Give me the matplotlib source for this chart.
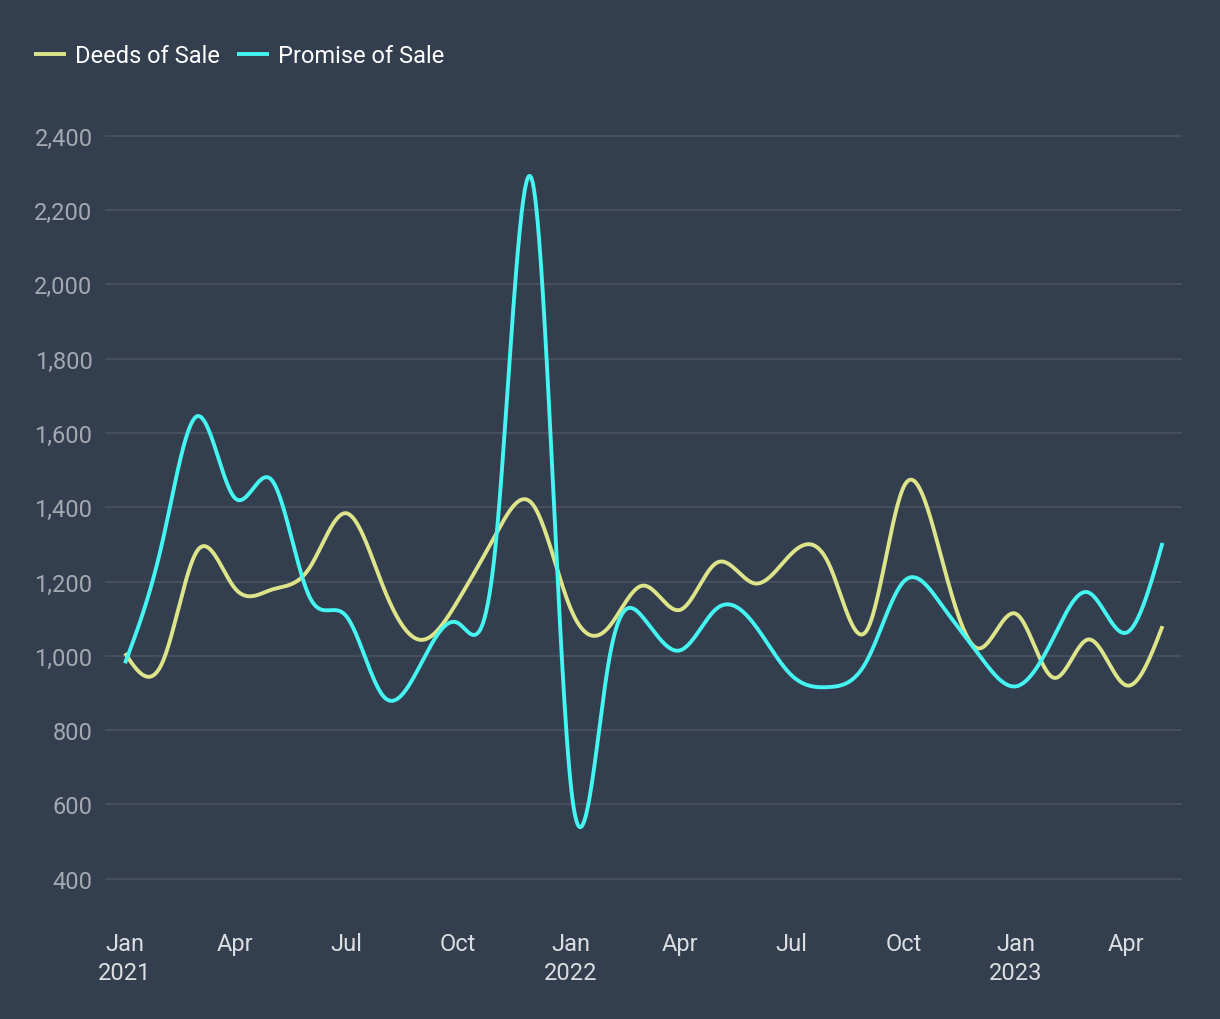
import numpy as np
import matplotlib
matplotlib.use("Agg")
import matplotlib.pyplot as plt
import matplotlib.dates as mdates

# monthly data, Jan 2021 - May 2023
months = np.arange("2021-01", "2023-06", dtype="datetime64[M]")
deeds_of_sale = [1007, 985, 1282, 1182, 1178, 1236, 1384, 1182, 1043, 1150, 1328, 1408,
                 1128, 1076, 1189, 1124, 1251, 1195, 1275, 1245, 1070, 1455, 1263, 1020,
                 1113, 941, 1044, 921, 1080]
promise_of_sale = [980, 1312, 1645, 1425, 1474, 1160, 1108, 890, 982, 1088, 1310, 2274,
                   660, 978, 1105, 1015, 1128, 1083, 948, 916, 988, 1200, 1137, 1006,
                   918, 1051, 1171, 1062, 1304]
series_names = ["Deeds of Sale", "Promise of Sale"]
tick_months = np.arange("2021-01", "2023-06", 3, dtype="datetime64[M]")
tick_labels = ["Jan\n2021", "Apr", "Jul", "Oct", "Jan\n2022", "Apr", "Jul", "Oct",
               "Jan\n2023", "Apr"]
y_ticks = list(range(400, 2401, 200))

BG = "#333e4f"
GRID = "#4a5161"
COLORS = ["#dde48a", "#45f5f2"]


def natural_spline(x, y, xs):
    """
    natural cubic spline through (x, y), evaluated at xs
    """
    x = np.asarray(x, float)
    y = np.asarray(y, float)
    n = len(x)
    h = np.diff(x)
    a = np.zeros((n, n))
    rhs = np.zeros(n)
    a[0, 0] = a[-1, -1] = 1
    for i in range(1, n - 1):
        a[i, i - 1] = h[i - 1]
        a[i, i] = 2 * (h[i - 1] + h[i])
        a[i, i + 1] = h[i]
        rhs[i] = 6 * ((y[i + 1] - y[i]) / h[i] - (y[i] - y[i - 1]) / h[i - 1])
    m = np.linalg.solve(a, rhs)
    idx = np.clip(np.searchsorted(x, xs) - 1, 0, n - 2)
    x0, x1 = x[idx], x[idx + 1]
    hi = x1 - x0
    t0 = x1 - xs
    t1 = xs - x0
    return (m[idx] * t0 ** 3 / (6 * hi) + m[idx + 1] * t1 ** 3 / (6 * hi)
            + (y[idx] / hi - m[idx] * hi / 6) * t0 + (y[idx + 1] / hi - m[idx + 1] * hi / 6) * t1)


plt.rcParams["font.family"] = ["Roboto", "DejaVu Sans"]

x = mdates.date2num(months.astype("datetime64[D]"))
xs = np.linspace(x[0], x[-1], 2000)

fig = plt.figure(figsize=(12.2, 10.2), dpi=100, facecolor=BG)
ax = fig.add_axes([105 / 1220, 1 - 905 / 1020, 1077 / 1220, 805 / 1020], facecolor=BG)

for values, name, color in zip([deeds_of_sale, promise_of_sale], series_names, COLORS):
    ax.plot(xs, natural_spline(x, values, xs), color=color, lw=2.8, label=name,
            solid_capstyle="butt")

ax.set_xlim(x[0] - 16.4, x[0] + 866)
ax.set_ylim(332, 2499)

ax.set_yticks(y_ticks)
ax.set_yticklabels(["{:,}".format(v) for v in y_ticks])
ax.set_xticks(mdates.date2num(tick_months.astype("datetime64[D]")))
ax.set_xticklabels(tick_labels, linespacing=1.32)

ax.grid(axis="y", color=GRID, lw=1.3)
ax.set_axisbelow(True)
for s in ax.spines.values():
    s.set_visible(False)
ax.tick_params(axis="y", length=0, pad=9, labelsize=17, labelcolor="#a4a8b0")
ax.tick_params(axis="x", length=0, pad=20, labelsize=17, labelcolor="#dcdde0")

fig.legend(loc="upper left", bbox_to_anchor=(34 / 1220, 1 - 45 / 1020), ncol=2,
           frameon=False, fontsize=17, labelcolor="white", handlelength=1.35,
           handletextpad=0.4, columnspacing=0.7, borderaxespad=0, borderpad=0)

fig.savefig("out.png", dpi=100, facecolor=BG)
